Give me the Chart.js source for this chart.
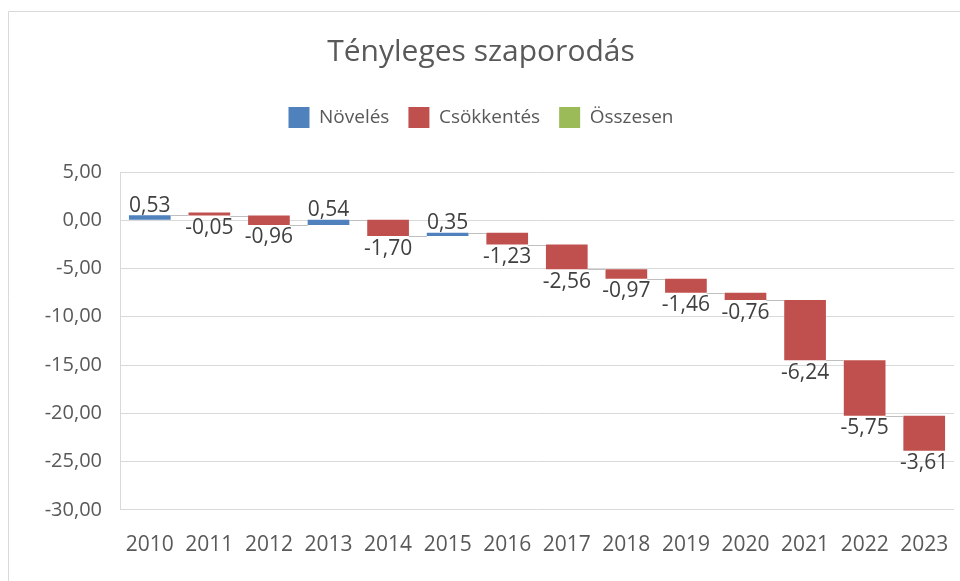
<!DOCTYPE html>
<html>
<head>
<meta charset="utf-8">
<script src="https://cdn.jsdelivr.net/npm/chart.js@4"></script>
<style>
  body { margin: 0; background: #fff; }
  #wrap { width: 960px; height: 581px; position: relative; }
</style>
</head>
<body>
<div id="wrap"><canvas id="waterfallChart" width="960" height="581"></canvas></div>
<script>
// adatok
const years = ['2010', '2011', '2012', '2013', '2014', '2015', '2016', '2017', '2018', '2019', '2020', '2021', '2022', '2023'];
const changes = [0.53, -0.05, -0.96, 0.54, -1.70, 0.35, -1.23, -2.56, -0.97, -1.46, -0.76, -6.24, -5.75, -3.61];
const yTicks = [5, 0, -5, -10, -15, -20, -25, -30];

const blue = '#4F81BD';
const red = '#C0504D';
const green = '#9BBB59';
const fontName = '"Open Sans", "Noto Sans", sans-serif';

function fmt(v) {
    return v.toFixed(2).replace('.', ',');
}

// lebegő oszlopok [kezdet, vég]
const spans = [];
let running = 0;
changes.forEach(c => {
    spans.push([running, running + c]);
    running += c;
});
const upData = spans.map((s, i) => changes[i] >= 0 ? s : null);
const downData = spans.map((s, i) => changes[i] < 0 ? s : null);

// jelmagyarázat alatt több hely
const legendSpacePlugin = {
    id: 'legendSpace',
    beforeInit(chart) {
        const origFit = chart.legend.fit;
        chart.legend.fit = function () {
            origFit.bind(chart.legend)();
            this.height += 34;
        };
    }
};

// keret, összekötők és címkék
const extrasPlugin = {
    id: 'extras',
    beforeDraw(chart) {
        const ctx = chart.ctx;
        ctx.save();
        ctx.strokeStyle = '#d9d9d9';
        ctx.lineWidth = 1;
        ctx.beginPath();
        ctx.moveTo(8.5, 600);
        ctx.lineTo(8.5, 11.5);
        ctx.lineTo(960, 11.5);
        ctx.stroke();
        ctx.restore();
    },
    afterDatasetsDraw(chart) {
        const ctx = chart.ctx;
        const yScale = chart.scales.y;
        const bars = years.map((y, i) => {
            const ds = changes[i] >= 0 ? 0 : 1;
            return chart.getDatasetMeta(ds).data[i];
        });
        ctx.save();
        ctx.strokeStyle = '#bfbfbf';
        ctx.lineWidth = 1;
        for (let i = 0; i < bars.length - 1; i++) {
            const yy = Math.round(yScale.getPixelForValue(spans[i][1])) + 0.5;
            ctx.beginPath();
            ctx.moveTo(bars[i].x + bars[i].width / 2, yy);
            ctx.lineTo(bars[i + 1].x - bars[i + 1].width / 2, yy);
            ctx.stroke();
        }
        ctx.fillStyle = '#404040';
        ctx.font = '21px ' + fontName;
        ctx.textAlign = 'center';
        bars.forEach((b, i) => {
            const top = Math.max(spans[i][0], spans[i][1]);
            const bottom = Math.min(spans[i][0], spans[i][1]);
            if (changes[i] >= 0) {
                ctx.textBaseline = 'bottom';
                ctx.fillText(fmt(changes[i]), b.x, yScale.getPixelForValue(top) + 1);
            } else {
                ctx.textBaseline = 'top';
                ctx.fillText(fmt(changes[i]), b.x, yScale.getPixelForValue(bottom) + 2);
            }
        });
        ctx.restore();
    }
};

const ctx = document.getElementById('waterfallChart').getContext('2d');
new Chart(ctx, {
    type: 'bar',
    data: {
        labels: years,
        datasets: [{
            label: 'Növelés',
            data: upData,
            backgroundColor: blue,
            grouped: false,
            barPercentage: 0.7,
            categoryPercentage: 1,
            minBarLength: 3
        }, {
            label: 'Csökkentés',
            data: downData,
            backgroundColor: red,
            grouped: false,
            barPercentage: 0.7,
            categoryPercentage: 1,
            minBarLength: 3
        }, {
            label: 'Összesen',
            data: years.map(() => null),
            backgroundColor: green,
            grouped: false,
            barPercentage: 0.7,
            categoryPercentage: 1
        }]
    },
    options: {
        responsive: false,
        animation: false,
        layout: { padding: { left: 8, right: 6, top: 34, bottom: 0 } },
        plugins: {
            title: {
                display: true,
                text: 'Tényleges szaporodás',
                color: '#595959',
                font: { family: fontName, size: 30, weight: 'normal' },
                padding: { top: 0, bottom: 18 }
            },
            legend: {
                position: 'top',
                labels: {
                    color: '#595959',
                    font: { family: fontName, size: 19 },
                    boxWidth: 21,
                    boxHeight: 21,
                    padding: 19
                }
            },
            tooltip: { enabled: false }
        },
        scales: {
            x: {
                grid: { display: false, drawTicks: false },
                border: { display: false },
                afterFit(axis) {
                    axis.paddingLeft = 0;
                    axis.paddingRight = 0;
                },
                ticks: {
                    color: '#595959',
                    font: { family: fontName, size: 21 },
                    padding: 23,
                    maxRotation: 0
                }
            },
            y: {
                min: -30,
                max: 5,
                afterBuildTicks(axis) {
                    axis.ticks = yTicks.map(v => ({ value: v }));
                },
                afterFit(axis) {
                    axis.width = 112;
                },
                grid: { color: '#d9d9d9', drawTicks: false },
                border: { display: true, color: '#d9d9d9' },
                ticks: {
                    color: '#595959',
                    font: { family: fontName, size: 20 },
                    padding: 18,
                    callback: v => fmt(v)
                }
            }
        }
    },
    plugins: [legendSpacePlugin, extrasPlugin]
});
</script>
</body>
</html>
